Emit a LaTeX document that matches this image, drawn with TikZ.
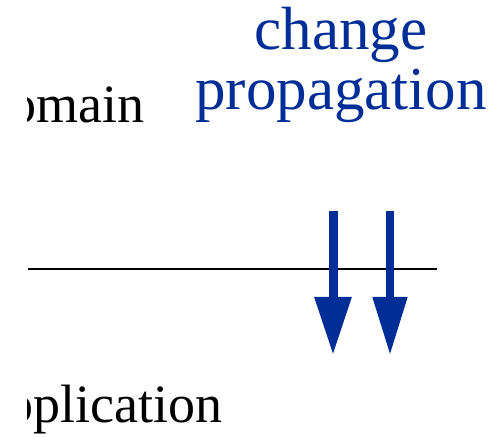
\documentclass[tikz,border=0pt]{standalone}
\usepackage{fontspec}
\setmainfont{Liberation Serif}
\usepackage{tikz}
\usetikzlibrary{arrows.meta}
\definecolor{propblue}{RGB}{0, 45, 150}

\begin{document}
\begin{tikzpicture}[x=1pt, y=1pt]
        \useasboundingbox (0,0) rectangle (500,438);
        \begin{scope}
          \clip (27,0) rectangle (500,438);
          \node[anchor=base west, inner sep=0pt, font=\fontsize{54}{54}\selectfont] (dom) at (-18,315) {domain};
          \node[anchor=base west, inner sep=0pt, font=\fontsize{54}{54}\selectfont] (app) at (-18,15) {application};
        \end{scope}
        \node[anchor=base, inner sep=0pt, align=center, text=propblue, font=\fontsize{61}{60}\selectfont] (prop) at (341,328) {change\\propagation};
        \coordinate (l) at (28,169);
        \coordinate (r) at (437,169);
        \draw[line width=2pt] (l)--(r);
        \coordinate (a1) at (333,227);
        \coordinate (b1) at (333,83);
        \coordinate (a2) at (390,227);
        \coordinate (b2) at (390,83);
        \draw[propblue, line width=9pt, -{Triangle[length=58pt, width=35pt]}] (a1)--(b1);
        \draw[propblue, line width=8pt, -{Triangle[length=58pt, width=33pt]}] (a2)--(b2);
      \end{tikzpicture}
\end{document}
